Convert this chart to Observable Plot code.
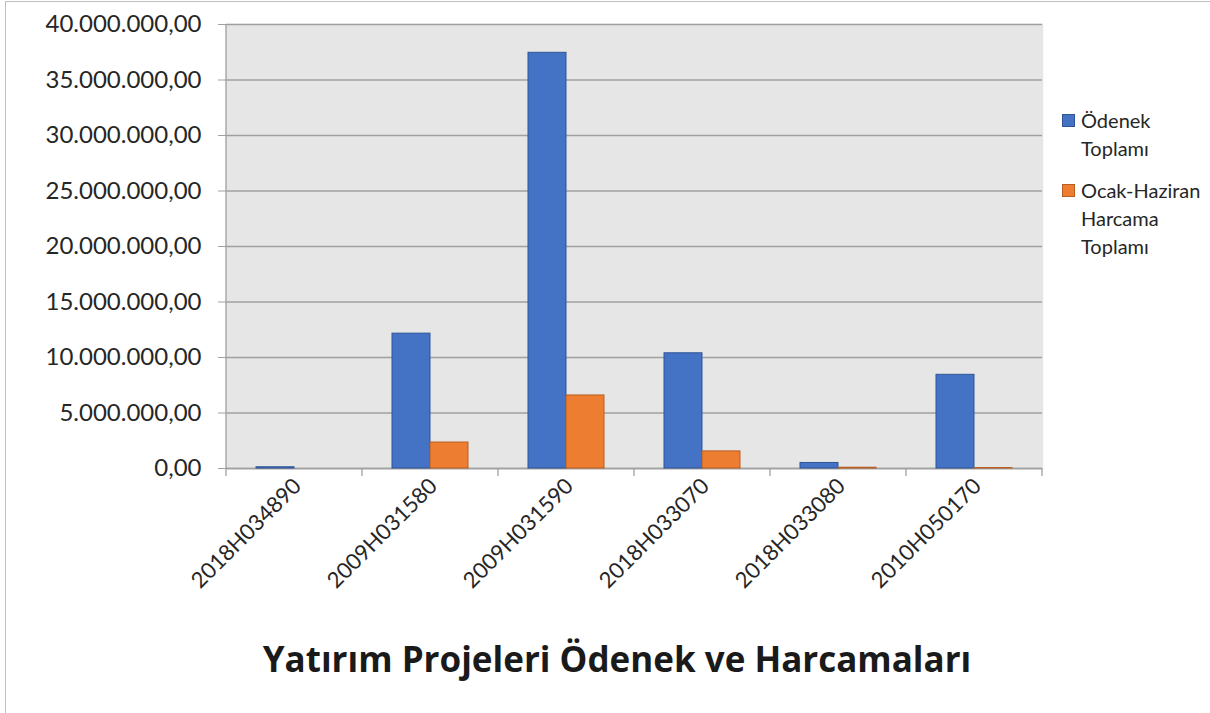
<!DOCTYPE html>
<html>
<head>
<meta charset="utf-8">
<script src="https://cdn.jsdelivr.net/npm/d3@7"></script>
<script src="https://cdn.jsdelivr.net/npm/@observablehq/plot@0.6"></script>
<style>
  html, body { margin: 0; padding: 0; background: #fff; }
  #wrap { position: relative; width: 1210px; height: 713px; overflow: hidden; background: #fff; font-family: Lato, "Open Sans", sans-serif; }
  #border { position: absolute; left: 5px; top: 1px; width: 1300px; height: 800px; border-left: 1px solid #bfbfbf; border-top: 1px solid #bfbfbf; }
  #chart { position: absolute; left: 0; top: 0; }
  #legend { position: absolute; left: 1062px; top: 106px; font-size: 20px; color: #262626; line-height: 28px; }
  .item { display: flex; align-items: flex-start; }
  .sw { width: 11px; height: 11px; margin-top: 8px; margin-right: 6px; flex: none; }
  #title { position: absolute; top: 635px; left: 617px; transform: translateX(-50%); white-space: nowrap; font-family: "Open Sans", sans-serif; font-size: 35px; line-height: normal; font-weight: 700; color: #1a1a1a; }
</style>
</head>
<body>
<div id="wrap">
  <div id="border"></div>
  <div id="chart"></div>
  <div id="legend"></div>
  <div id="title">Yatırım Projeleri Ödenek ve Harcamaları</div>
</div>
<script>
const categories = ["2018H034890", "2009H031580", "2009H031590", "2018H033070", "2018H033080", "2010H050170"];
const seriesNames = ["Ödenek Toplamı", "Ocak-Haziran Harcama Toplamı"];
const legendLines = [["Ödenek", "Toplamı"], ["Ocak-Haziran", "Harcama", "Toplamı"]];
const odenek = [110000, 12150000, 37450000, 10380000, 500000, 8440000];
const harcama = [0, 2340000, 6580000, 1540000, 70000, 40000];
const yTicks = [0, 5000000, 10000000, 15000000, 20000000, 25000000, 30000000, 35000000, 40000000];
const seriesColors = ["#4472c4", "#ed7d31"];
const seriesStrokes = ["#2f5597", "#b85e22"];

const table = categories.flatMap((c, i) => [
  {cat: c, series: seriesNames[0], value: odenek[i]},
  {cat: c, series: seriesNames[1], value: harcama[i]}
]);

const loc = d3.formatLocale({decimal: ",", thousands: ".", grouping: [3], currency: ["", ""]});
const fmt = loc.format(",.2f");

const gridColor = "#a0a0a0";
const bg = "#e7e6e6";

const plot = Plot.plot({
  width: 1210,
  height: 600,
  marginLeft: 225,
  marginRight: 168,
  marginTop: 24,
  marginBottom: 132,
  style: {fontFamily: "Lato, 'Open Sans', sans-serif", fontSize: "22px", background: "transparent", color: "#262626"},
  fx: {domain: categories, paddingInner: 0, paddingOuter: 0, label: null},
  x: {domain: seriesNames, paddingInner: 0, paddingOuter: 0.744, axis: null},
  y: {domain: [0, 40000000], label: null},
  marks: [
    Plot.frame({fill: bg, stroke: bg, strokeWidth: 1.5}),
    Plot.gridY(yTicks, {stroke: gridColor, strokeOpacity: 1, strokeWidth: 1.3}),
    Plot.ruleY([0], {stroke: gridColor, strokeWidth: 1.3}),
    ...seriesNames.map((s, k) => Plot.barY(table, {
      filter: d => d.series === s && d.value > 0,
      fx: "cat", x: "series", y: "value",
      fill: seriesColors[k], stroke: seriesStrokes[k], strokeWidth: 1
    })),
    Plot.axisY(yTicks, {tickSize: 8, tickPadding: 17, stroke: gridColor, tickFormat: fmt, fontSize: 24, label: null}),
    Plot.axisFx({anchor: "bottom", tickSize: 0, tickRotate: -45, tickPadding: 14, dx: 3, fontSize: 22, label: null})
  ]
});

// category boundary tick marks and the value-axis line, placed with Plot's own scales
const fxs = plot.scale("fx");
const ys = plot.scale("y");
const y0 = ys.apply(0), yTop = ys.apply(40000000);
const bounds = categories.map(c => fxs.apply(c));
bounds.push(fxs.apply(categories[categories.length - 1]) + fxs.bandwidth);
const g = d3.select(plot).append("g").attr("stroke", gridColor).attr("stroke-width", 1.3);
g.selectAll("line.b").data(bounds).join("line")
  .attr("x1", d => d).attr("x2", d => d).attr("y1", y0).attr("y2", y0 + 8);
g.append("line").attr("x1", bounds[0]).attr("x2", bounds[0]).attr("y1", yTop).attr("y2", y0);

document.getElementById("chart").appendChild(plot);

// legend
const lg = document.getElementById("legend");
legendLines.forEach((lines, k) => {
  const item = document.createElement("div");
  item.className = "item";
  item.style.marginBottom = k === 0 ? "14px" : "0";
  const sw = document.createElement("div");
  sw.className = "sw";
  sw.style.background = seriesColors[k];
  sw.style.border = "1px solid " + seriesStrokes[k];
  const tx = document.createElement("div");
  tx.innerHTML = lines.join("<br>");
  item.appendChild(sw);
  item.appendChild(tx);
  lg.appendChild(item);
});
</script>
</body>
</html>
